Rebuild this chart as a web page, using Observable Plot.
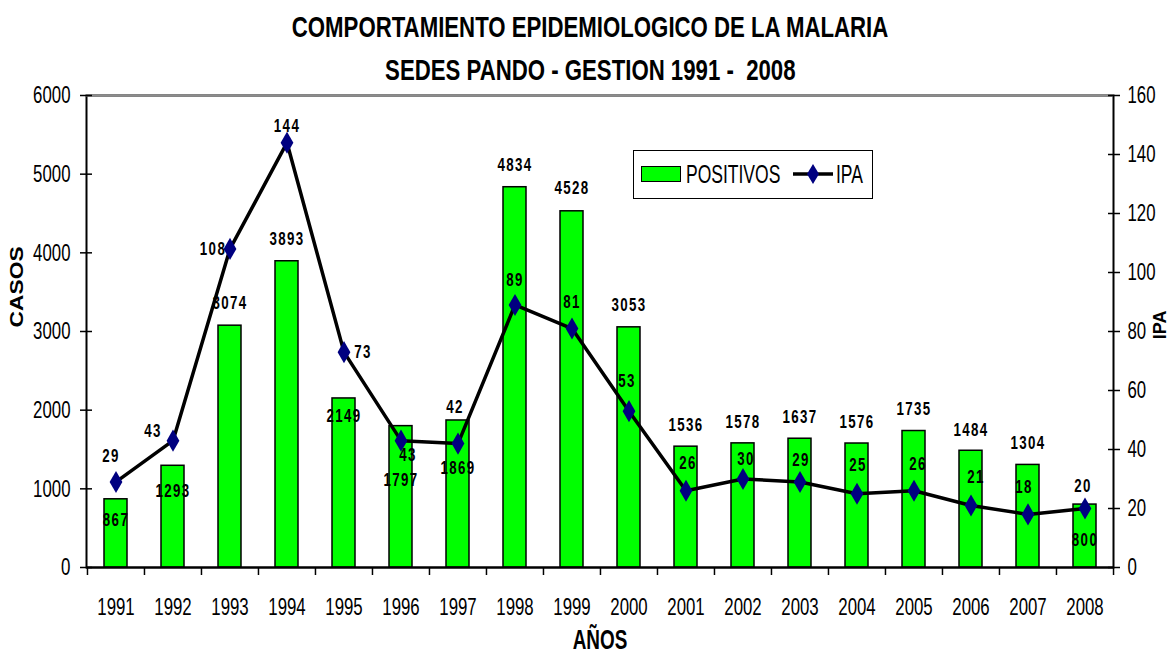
<!DOCTYPE html>
<html>
<head>
<meta charset="utf-8">
<script src="https://cdn.jsdelivr.net/npm/d3@7"></script>
<script src="https://cdn.jsdelivr.net/npm/@observablehq/plot@0.6"></script>
<style>
  body { margin: 0; background: #fff; }
  #wrap { position: relative; width: 1170px; height: 660px; background: #fff;
          font-family: "Liberation Sans", Arial, sans-serif; color: #000; }
  .tline { position: absolute; left: 10px; width: 1160px; text-align: center; font-weight: bold; font-size: 30px; line-height: 32px; white-space: pre; }
  .tline span { display: inline-block; transform: scaleX(0.74); transform-origin: center; }
  #legend { position: absolute; left: 633px; top: 150px; width: 240px; height: 49px; border: 1.5px solid #000;
            box-sizing: border-box; background: #fff; font-size: 25px; }
  #legend span { position: absolute; top: 9px; line-height: 28px; transform: scaleX(0.7); transform-origin: left center; white-space: nowrap; }
</style>
</head>
<body>
<div id="wrap">
  <div class="tline" style="top:11px"><span id="t1"></span></div>
  <div class="tline" style="top:54px"><span id="t2"></span></div>
  <div id="chart" style="position:absolute;left:0;top:88px;"></div>
  <div id="legend"></div>
</div>
<script>
// ---- data ----
const titleLines = ["COMPORTAMIENTO EPIDEMIOLOGICO DE LA MALARIA", "SEDES PANDO - GESTION 1991 -  2008"];
const years = ["1991","1992","1993","1994","1995","1996","1997","1998","1999","2000","2001","2002","2003","2004","2005","2006","2007","2008"];
const positivos = [867,1293,3074,3893,2149,1797,1869,4834,4528,3053,1536,1578,1637,1576,1735,1484,1304,800];
const ipa = [29,43,108,144,73,43,42,89,81,53,26,30,29,25,26,21,18,20];
const casosTicks = [0,1000,2000,3000,4000,5000,6000];
const ipaTicks = [0,20,40,60,80,100,120,140,160];
const seriesNames = ["POSITIVOS", "IPA"];
const axisTitles = {x: "AÑOS", yLeft: "CASOS", yRight: "IPA"};

// ---- label placement (pixel nudges, as placed in the original) ----
const barLabelDy = [21,25,-23,-22,17,54,47,-22,-23,-22,-22,-21,-22,-22,-22,-21,-22,35];
const ipaLabelDx = [-5,-20,-17,0,19,7,-3,0,0,-2,2,3,1,1,4,5,-4,-2];
const ipaLabelDy = [-26,-10,0,-17,0,14,-37,-25,-27,-30,-28,-20,-22,-29,-27,-29,-27,-23];

// ---- layout ----
const W = 1170, H = 572, mL = 86, mR = 57, mT = 7, mB = 93;
const step = (W - mL - mR) / years.length;
const casosMax = 6000, ipaMax = 160;
const k = casosMax / ipaMax;
const GREEN = "#00FF00", NAVY = "#000080";
const font = '"Liberation Sans", Arial, sans-serif';
const NARROW = 0.7;

document.getElementById("t1").textContent = titleLines[0];
document.getElementById("t2").textContent = titleLines[1];

const data = years.map((year, i) => ({year, casos: positivos[i], ipa: ipa[i], ipaS: ipa[i] * k, i}));

const barLabels = data.map(d => Plot.text([d], {
  x: "year", y: "casos", text: d => String(d.casos), dy: barLabelDy[d.i],
  fontWeight: "bold", fontSize: 19, fill: "#000"
}));
const ipaLabels = data.map(d => Plot.text([d], {
  x: "year", y: "ipaS", text: d => String(d.ipa), dx: ipaLabelDx[d.i], dy: ipaLabelDy[d.i],
  fontWeight: "bold", fontSize: 19, fill: "#000"
}));

const chart = Plot.plot({
  width: W, height: H,
  marginLeft: mL, marginRight: mR, marginTop: mT, marginBottom: mB,
  style: {fontFamily: font, fontSize: "24px", color: "#000", background: "#fff", overflow: "visible"},
  x: {domain: years, padding: 0},
  y: {domain: [0, casosMax]},
  marks: [
    Plot.frame({stroke: "#000", strokeWidth: 2}),
    Plot.ruleY([casosMax], {stroke: "#8c8c8c", strokeWidth: 2}),
    Plot.barY(data, {x: "year", y: "casos", fill: GREEN, stroke: "#000", strokeWidth: 1.5, insetLeft: 17, insetRight: 17}),
    Plot.ruleY([0], {stroke: "#000", strokeWidth: 2}),
    Plot.line(data, {x: "year", y: "ipaS", stroke: "#000", strokeWidth: 3.5}),
    Plot.dot(data, {x: "year", y: "ipaS", symbol: "diamond", r: 6.7, fill: NAVY, stroke: "none"}),
    ...barLabels,
    ...ipaLabels,
    Plot.axisY({anchor: "left", ticks: casosTicks, tickFormat: d => String(d), tickSize: 12, dx: 6, tickPadding: 10, strokeWidth: 1.5, label: null}),
    Plot.axisY({anchor: "right", ticks: ipaTicks.map(v => v * k), tickFormat: v => String(Math.round(v / k)), tickSize: 12, dx: -6, tickPadding: 8, strokeWidth: 1.5, label: null}),
    Plot.axisX({ticks: years, tickSize: 0, tickPadding: 30, label: null}),
    Plot.axisX({ticks: years, tickSize: 8, dx: -step / 2, tickFormat: () => "", strokeWidth: 1.5, label: null}),
    Plot.axisX({ticks: [years[years.length - 1]], tickSize: 8, dx: step / 2, tickFormat: () => "", strokeWidth: 1.5, label: null}),
    Plot.text([axisTitles.x], {text: d => d, frameAnchor: "bottom", dy: 81, fontWeight: "bold", fontSize: 27}),
    Plot.text([axisTitles.yLeft], {text: d => d, frameAnchor: "left", dx: -70, dy: -4, rotate: -90, fontWeight: "bold", fontSize: 19}),
    Plot.text([axisTitles.yRight], {text: d => d, frameAnchor: "right", dx: 47, dy: -21, rotate: -90, fontWeight: "bold", fontSize: 18})
  ]
});
document.getElementById("chart").appendChild(chart);

// condense the chart's texts horizontally (the original uses a narrow face)
function squeeze(t, f, spacing) {
  if (spacing) t.style.letterSpacing = spacing;
  const len = t.getComputedTextLength();
  t.setAttribute("textLength", (len * f).toFixed(1));
  t.setAttribute("lengthAdjust", "spacingAndGlyphs");
}
const labelSet = new Set([...positivos, ...ipa].map(String));
chart.querySelectorAll("text").forEach(t => {
  const s = t.textContent;
  if (s === axisTitles.yLeft) squeeze(t, 1.2);
  else if (s === axisTitles.yRight) return;
  else if (labelSet.has(s) && t.closest('g[aria-label="text"]')) squeeze(t, NARROW, "2px");
  else squeeze(t, NARROW);
});

// ---- legend ----
const lg = document.getElementById("legend");
lg.innerHTML =
  `<div style="position:absolute;left:7px;top:15px;width:40px;height:16px;background:${GREEN};border:1.5px solid #000;box-sizing:border-box"></div>` +
  `<span style="left:52px">${seriesNames[0]}</span>` +
  `<svg style="position:absolute;left:158px;top:9px" width="42" height="28"><line x1="1" y1="14" x2="41" y2="14" stroke="#000" stroke-width="3.5"/><path d="M21,4 L27,14 L21,24 L15,14 Z" fill="${NAVY}"/></svg>` +
  `<span style="left:202px">${seriesNames[1]}</span>`;
</script>
</body>
</html>
